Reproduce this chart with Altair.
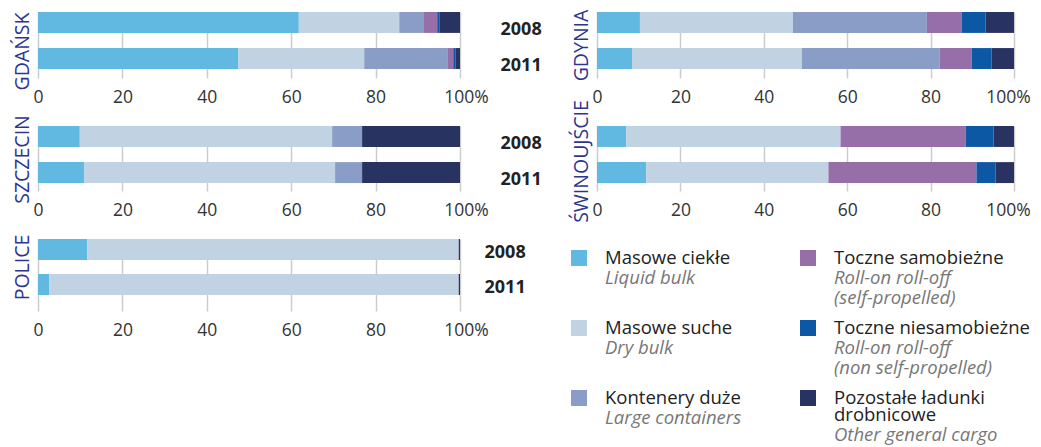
import altair as alt
import pandas as pd

ports = ["GDAŃSK", "GDYNIA", "SZCZECIN", "ŚWINOUJŚCIE", "POLICE"]
years = ["2008", "2011"]
categories = ["Masowe ciekłe", "Masowe suche", "Kontenery duże",
              "Toczne samobieżne", "Toczne niesamobieżne", "Pozostałe ładunki drobnicowe"]
colors = ["#61b8e0", "#c1d3e3", "#8a9dc7", "#966ea8", "#0c58a5", "#283362"]

# values in order: (port, year) -> GDAŃSK 2008, GDAŃSK 2011, GDYNIA 2008, ...
liquid_bulk = [61.8, 47.5, 10.3, 8.4, 9.9, 11.0, 7.0, 11.8, 11.7, 2.7]
dry_bulk = [23.8, 29.8, 36.7, 40.7, 59.8, 59.4, 51.4, 43.7, 88.0, 97.0]
large_containers = [5.7, 19.7, 32.1, 33.1, 7.1, 6.4, 0.0, 0.0, 0.0, 0.0]
roro_self = [3.3, 1.4, 8.4, 7.7, 0.0, 0.0, 30.0, 35.5, 0.0, 0.0]
roro_non_self = [0.5, 0.5, 5.7, 4.7, 0.0, 0.0, 6.7, 4.6, 0.0, 0.0]
other_general = [4.9, 1.1, 6.8, 5.4, 23.2, 23.2, 4.9, 4.4, 0.3, 0.3]

series = [liquid_bulk, dry_bulk, large_containers, roro_self, roro_non_self, other_general]

legend_pl = ["Masowe ciekłe", "Masowe suche", "Kontenery duże",
             "Toczne samobieżne", "Toczne niesamobieżne", "Pozostałe ładunki\ndrobnicowe"]
legend_en = ["Liquid bulk", "Dry bulk", "\u00a0Large containers",
             "Roll-on roll-off\n(self-propelled)", "Roll-on roll-off\n(non self-propelled)",
             "Other general cargo"]

x_ticks = [0, 20, 40, 60, 80, 100]

FONT = "Open Sans"
TITLE_COLOR = "#2e3590"

rows = []
for pi, port in enumerate(ports):
    for yi, year in enumerate(years):
        for ci, cat in enumerate(categories):
            rows.append(dict(port=port, year=year, cat=cat, ci=ci, value=series[ci][pi * 2 + yi]))
df = pd.DataFrame(rows)

color_scale = alt.Scale(domain=categories, range=colors)


def make_x_axis(last_offset):
    return alt.Axis(
        values=x_ticks, grid=True, ticks=False, domain=False, labelFlush=False,
        labelExpr="datum.value == 100 ? '100%' : datum.label",
        labelOffset={"condition": {"test": "datum.value == 100", "value": last_offset}, "value": 0},
        labelFontSize=17.5, labelColor="#333333", labelPadding=10, labelFont=FONT,
        gridColor="#cccccc", gridWidth=1.5, title=None,
    )


def panel(port, width, height, p_inner, p_outer, title_y, last_offset, year_pad=None, year_align=0.0):
    y_scale = alt.Scale(type="band", paddingInner=p_inner, paddingOuter=p_outer, align=0)
    base = alt.Chart(df).transform_filter(alt.datum.port == port)
    bars = base.mark_bar().encode(
        x=alt.X("value:Q", stack="zero", scale=alt.Scale(domain=[0, 100], nice=False),
                axis=make_x_axis(last_offset)),
        y=alt.Y("year:N", scale=y_scale, axis=alt.Axis(
            title=port, labels=False, ticks=False, domain=False, grid=False,
            titleY=title_y, titleFontSize=19.5, titleColor=TITLE_COLOR, titleFont=FONT,
            titleFontWeight="normal", titlePadding=6)),
        color=alt.Color("cat:N", scale=color_scale, legend=None),
        order=alt.Order("ci:Q"),
    )
    if year_pad is None:
        ch = bars
    else:
        lab_scale = alt.Scale(type="band", paddingInner=p_inner, paddingOuter=p_outer, align=year_align)
        labs = base.mark_point(opacity=0).encode(
            y=alt.Y("year:N", scale=lab_scale, axis=alt.Axis(
                orient="right", title=None, ticks=False, domain=False, grid=False,
                labelPadding=year_pad, labelFontSize=18, labelFont=FONT,
                labelFontWeight="bold", labelColor="#222222")),
        )
        ch = alt.layer(bars, labs).resolve_scale(y="independent")
    return ch.properties(width=width, height=height)


gdansk = panel("GDAŃSK", 422, 66, 0.42, 0.125, 39, 6, year_pad=40, year_align=0.85)
gdynia = panel("GDYNIA", 417, 66, 0.42, 0.125, 33, -6)
szczecin = panel("SZCZECIN", 422, 65, 0.42, 0.11, 33, 6, year_pad=40, year_align=0.95)
swin = panel("ŚWINOUJŚCIE", 417, 65, 0.42, 0.11, 35, -6)
police = panel("POLICE", 422, 72, 0.40, 0.229, 28, 6, year_pad=24, year_align=0.2)

# custom legend: layout of lines built from the row / line structure
ROW_STEP, PL_STEP, EN_STEP = 70, 17, 20
leg_rows = []
sw_rows = []
for i, cat in enumerate(categories):
    col, row = divmod(i, 3)
    base_y = row * ROW_STEP
    sw_rows.append(dict(cat=cat, col=col, ypos=base_y))
    pl_lines = legend_pl[i].split("\n")
    en_lines = legend_en[i].split("\n")
    y = base_y
    for li, t in enumerate(pl_lines):
        if li > 0:
            y += PL_STEP
        leg_rows.append(dict(cat=cat, col=col, ypos=y, text=t, kind="pl"))
    for t in en_lines:
        y += EN_STEP
        leg_rows.append(dict(cat=cat, col=col, ypos=y, text=t, kind="en"))
leg_df = pd.DataFrame(leg_rows)
sw_df = pd.DataFrame(sw_rows)

lx = alt.Scale(domain=[0, 1], range=[-18, 211])
ly = alt.Scale(domain=[0, 100], range=[19, 119])

swatch = alt.Chart(sw_df).mark_square(size=256, opacity=1).encode(
    x=alt.X("col:Q", scale=lx, axis=None),
    y=alt.Y("ypos:Q", scale=ly, axis=None),
    color=alt.Color("cat:N", scale=color_scale, legend=None),
)
txt_base = alt.Chart(leg_df)
pl_text = txt_base.transform_filter(alt.datum.kind == "pl").mark_text(
    align="left", baseline="middle", dx=26, fontSize=18.5, font=FONT, color="#222222").encode(
    x=alt.X("col:Q", scale=lx, axis=None), y=alt.Y("ypos:Q", scale=ly, axis=None), text="text:N")
en_text = txt_base.transform_filter(alt.datum.kind == "en").mark_text(
    align="left", baseline="middle", dx=26, fontSize=18.5, font=FONT, fontStyle="italic",
    color="#777777").encode(
    x=alt.X("col:Q", scale=lx, axis=None), y=alt.Y("ypos:Q", scale=ly, axis=None), text="text:N")
legend = alt.layer(swatch, pl_text, en_text).properties(width=417, height=180)

chart = alt.concat(
    gdansk, gdynia, szczecin, swin, police, legend,
    columns=2, spacing={"row": 48, "column": 137}, bounds="flush",
).properties(
    padding={"top": 1, "left": 3, "right": 0, "bottom": 0},
    background="white",
).configure_view(strokeWidth=0, stroke=None).configure_axis(
    labelFont=FONT, titleFont=FONT
)

chart.save("out.html", embed_options={"renderer": "svg", "actions": False})
